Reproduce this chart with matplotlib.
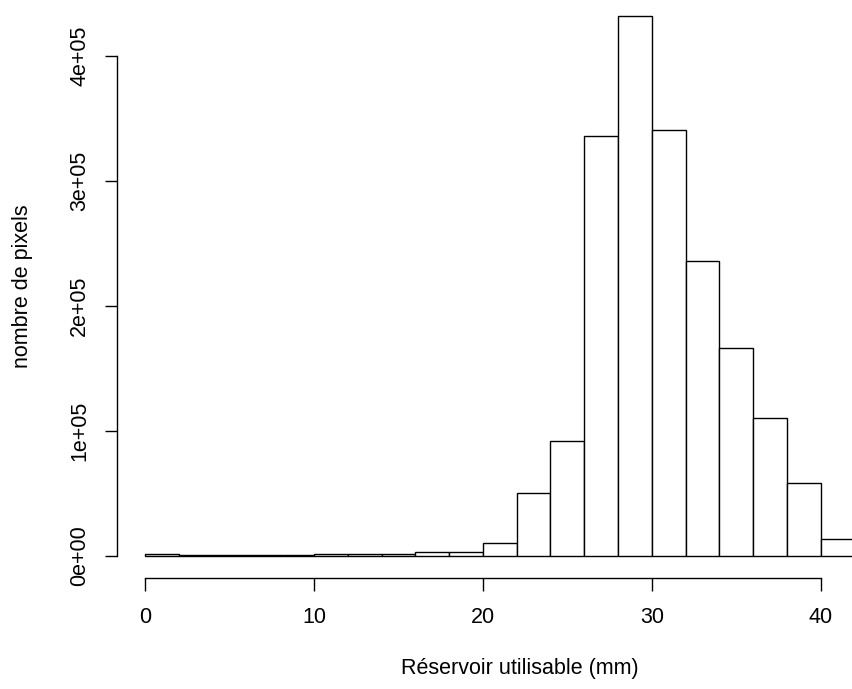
import numpy as np
import matplotlib
matplotlib.use('Agg')
import matplotlib.pyplot as plt

# Histogram counts, 2 mm bins from 0 to 42
bin_edges = np.arange(0, 44, 2)
counts = [1800, 500, 500, 500, 500, 1200, 1200, 1200, 2800, 2800,
          10400, 50400, 92000, 335600, 432000, 340400, 235600, 166600,
          110000, 58400, 13900]
x_ticks = [0, 10, 20, 30, 40]
y_ticks = [0, 100000, 200000, 300000, 400000]
y_tick_labels = ['0e+00', '1e+05', '2e+05', '3e+05', '4e+05']

plt.rcParams['font.family'] = ['Liberation Sans', 'DejaVu Sans']

W, H = 853, 689
fig = plt.figure(figsize=(W / 100, H / 100), dpi=100)

# R-style plot region: 4% padding around data range
xlo, xhi = -1.68, 43.68
ylo, yhi = -17280, 449280
px_left, px_right = 116.6, 883.0
px_bottom, px_top = 577.5, -6.0
ax = fig.add_axes([px_left / W, 1 - px_bottom / H,
                   (px_right - px_left) / W, (px_bottom - px_top) / H])
ax.set_xlim(xlo, xhi)
ax.set_ylim(ylo, yhi)

ax.bar(bin_edges[:-1], counts, width=2, align='edge', color='white',
       edgecolor='black', linewidth=1.0)

for side in ['top', 'right']:
    ax.spines[side].set_visible(False)
ax.spines['bottom'].set_bounds(x_ticks[0], x_ticks[-1])
ax.spines['left'].set_bounds(y_ticks[0], y_ticks[-1])
for side in ['bottom', 'left']:
    ax.spines[side].set_linewidth(1.0)

fs = 15.5
ax.set_xticks(x_ticks)
ax.set_yticks(y_ticks)
ax.set_yticklabels(y_tick_labels, rotation=90, va='center')
ax.tick_params(axis='both', length=9, width=1.0, labelsize=fs, colors='black')
ax.tick_params(axis='x', pad=12)
ax.tick_params(axis='y', pad=10)

ax.set_xlabel('Réservoir utilisable (mm)', fontsize=fs, labelpad=22)
ax.xaxis.label.set_x(0.5264)
ax.set_ylabel('nombre de pixels', fontsize=fs, labelpad=26)

fig.savefig('out.png', dpi=100)
